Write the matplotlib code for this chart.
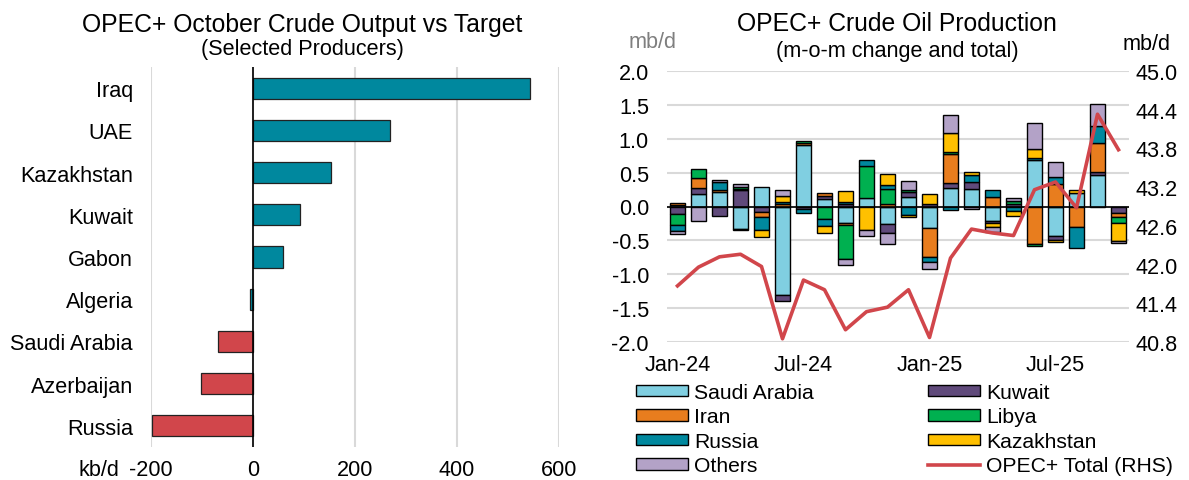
import numpy as np
import matplotlib
matplotlib.use("Agg")
import matplotlib.pyplot as plt
from matplotlib.patches import Patch
from matplotlib.lines import Line2D

plt.rcParams['font.family'] = ['Liberation Sans', 'DejaVu Sans']
plt.rcParams['axes.unicode_minus'] = False

# ---- left chart: October output vs target (kb/d)
producers = ['Iraq', 'UAE', 'Kazakhstan', 'Kuwait', 'Gabon', 'Algeria',
             'Saudi Arabia', 'Azerbaijan', 'Russia']
vs_target = [543, 269, 153, 92, 59, -5, -69, -102, -198]

# ---- right chart: m-o-m change by producer (mb/d) and total (RHS)
months = ['Jan-24', 'Feb-24', 'Mar-24', 'Apr-24', 'May-24', 'Jun-24', 'Jul-24', 'Aug-24',
          'Sep-24', 'Oct-24', 'Nov-24', 'Dec-24', 'Jan-25', 'Feb-25', 'Mar-25', 'Apr-25',
          'May-25', 'Jun-25', 'Jul-25', 'Aug-25', 'Sep-25', 'Oct-25']
saudi = [0.02, 0.18, 0.21, -0.33, 0.29, -1.30, 0.91, 0.11, -0.24, 0.13, -0.26, 0.14,
         -0.31, 0.28, 0.26, -0.22, 0.0, 0.68, -0.44, 0.20, 0.47, 0.0]
kuwait = [-0.11, 0.09, -0.14, 0.24, -0.08, -0.10, -0.03, 0.05, 0.04, 0.0, -0.13, 0.07,
          0.03, 0.07, 0.10, -0.03, 0.04, 0.0, -0.05, 0.0, 0.04, -0.10]
iran = [0.03, 0.15, 0.04, 0.02, -0.08, 0.04, 0.03, 0.04, -0.04, 0.0, 0.03, 0.0,
        -0.43, 0.42, 0.0, 0.14, 0.0, -0.55, 0.33, -0.30, 0.43, -0.06]
libya = [-0.16, 0.13, 0.0, 0.03, 0.0, 0.0, 0.03, -0.18, -0.50, 0.47, 0.23, 0.03,
         0.0, 0.04, 0.0, 0.0, 0.04, -0.04, 0.0, 0.0, 0.0, -0.09]
russia = [-0.09, 0.0, 0.11, 0.0, -0.18, 0.03, -0.07, -0.11, 0.03, 0.08, 0.05, -0.12,
          -0.08, -0.05, 0.11, 0.10, -0.07, 0.04, 0.10, -0.31, 0.25, 0.0]
kazakhstan = [0.0, 0.0, 0.0, -0.02, -0.11, 0.09, 0.0, -0.10, 0.16, -0.35, 0.17, -0.03,
              0.15, 0.27, 0.04, -0.05, -0.07, 0.13, -0.04, 0.04, 0.0, -0.26]
others = [-0.04, -0.21, 0.03, 0.04, 0.0, 0.08, 0.0, 0.0, -0.08, -0.08, -0.17, 0.14,
          -0.10, 0.27, -0.04, -0.08, 0.05, 0.38, 0.22, 0.0, 0.32, -0.03]
opec_total = [41.67, 41.96, 42.12, 42.16, 41.97, 40.85, 41.76, 41.61, 40.99, 41.27, 41.34,
              41.61, 40.87, 42.10, 42.55, 42.49, 42.45, 43.16, 43.28, 42.88, 44.33, 43.78]

TEAL = '#00889E'
RED = '#D1464B'
GRID = '#d9d9d9'
FS = 15.6

W, H = 1189, 481
fig = plt.figure(figsize=(W / 100, H / 100), dpi=100)

# ================= left chart
ax1 = fig.add_axes([151 / W, 1 - 448 / H, (559 - 151) / W, (448 - 68) / H])
ypos = np.arange(len(producers))
cols = [TEAL if v > -20 else RED for v in vs_target]
ax1.barh(ypos, vs_target, height=0.5, color=cols, edgecolor='#222222', linewidth=0.9, zorder=3)
ax1.set_ylim(len(producers) - 0.5, -0.5)
ax1.set_xlim(-200, 600)
ax1.set_xticks([-200, 0, 200, 400, 600])
ax1.set_yticks(ypos)
ax1.set_yticklabels(producers)
ax1.grid(axis='x', color=GRID, linewidth=1.5, zorder=0)
ax1.axvline(0, color='black', linewidth=1.2, zorder=4)
for s in ax1.spines.values():
    s.set_visible(False)
ax1.tick_params(axis='both', length=0, labelsize=FS)
ax1.tick_params(axis='y', pad=13)
ax1.tick_params(axis='x', pad=9)
fig.text(99 / W, 1 - 471 / H, 'kb/d', ha='center', va='center', fontsize=FS)

fig.text(302 / W, 1 - 25 / H, 'OPEC+ October Crude Output vs Target', ha='center', va='center', fontsize=17.8)
fig.text(302 / W, 1 - 50 / H, '(Selected Producers)', ha='center', va='center', fontsize=FS)

# ================= right chart
ax2 = fig.add_axes([667 / W, 1 - 343 / H, (1129 - 667) / W, (343 - 72) / H])
x = np.arange(len(months))
series = [('Saudi Arabia', saudi, '#80CFE1'),
          ('Kuwait', kuwait, '#604A7B'),
          ('Iran', iran, '#E87D1E'),
          ('Libya', libya, '#00B050'),
          ('Russia', russia, TEAL),
          ('Kazakhstan', kazakhstan, '#FFC000'),
          ('Others', others, '#B3A2C7')]
pos = np.zeros(len(x))
neg = np.zeros(len(x))
for name, vals, c in series:
    v = np.array(vals)
    bottom = np.where(v >= 0, pos, neg)
    m = v != 0
    ax2.bar(x[m], v[m], bottom=bottom[m], width=0.72, color=c, edgecolor='black',
            linewidth=1.0, zorder=3)
    pos += np.where(v > 0, v, 0)
    neg += np.where(v < 0, v, 0)

ax2.set_xlim(-0.5, len(x) - 0.5)
ax2.set_ylim(-2, 2)
ax2.set_yticks(np.arange(-2, 2.01, 0.5))
ax2.set_yticklabels([f'{t:.1f}' for t in np.arange(-2, 2.01, 0.5)])
ax2.set_xticks(x[::6])
ax2.set_xticklabels(months[::6])
ax2.grid(axis='y', color=GRID, linewidth=1.5, zorder=0)
ax2.axhline(0, color='black', linewidth=1.2, zorder=4)
for s in ax2.spines.values():
    s.set_visible(False)
ax2.tick_params(axis='both', length=0, labelsize=FS)
ax2.tick_params(axis='y', pad=13)
ax2.tick_params(axis='x', pad=9)

ax3 = ax2.twinx()
ax3.plot(x, opec_total, color=RED, linewidth=2.6, zorder=5)
ax3.set_ylim(40.8, 45.0)
ax3.set_yticks(np.arange(40.8, 45.01, 0.6))
ax3.set_yticklabels([f'{t:.1f}' for t in np.arange(40.8, 45.01, 0.6)])
for s in ax3.spines.values():
    s.set_visible(False)
ax3.tick_params(axis='both', length=0, labelsize=FS, pad=5)

fig.text(653 / W, 1 - 42 / H, 'mb/d', ha='center', va='center', fontsize=FS, color='#7f7f7f')
fig.text(1147 / W, 1 - 45 / H, 'mb/d', ha='center', va='center', fontsize=FS)
fig.text(897 / W, 1 - 24 / H, 'OPEC+ Crude Oil Production', ha='center', va='center', fontsize=17.8)
fig.text(897 / W, 1 - 51 / H, '(m-o-m change and total)', ha='center', va='center', fontsize=FS)

# legend in the order shown (row-wise, two columns)
LFS = 15.2
col_map = {n: c for n, _, c in series}
left_col = ['Saudi Arabia', 'Iran', 'Russia', 'Others']
right_col = ['Kuwait', 'Libya', 'Kazakhstan']
handles = [Patch(facecolor=col_map[n], edgecolor='black', linewidth=1.0) for n in left_col]
handles += [Patch(facecolor=col_map[n], edgecolor='black', linewidth=1.0) for n in right_col]
handles.append(Line2D([0], [0], color=RED, linewidth=2.6))
labels = left_col + right_col + ['OPEC+ Total (RHS)']
fig.legend(handles, labels, loc='upper left', bbox_to_anchor=(636 / W, 1 - 384 / H),
           ncol=2, frameon=False, fontsize=LFS, handlelength=2.45, handleheight=0.45,
           handletextpad=0.3, columnspacing=5.4, labelspacing=0.26, borderpad=0,
           borderaxespad=0)

fig.savefig('out.png', dpi=100)
